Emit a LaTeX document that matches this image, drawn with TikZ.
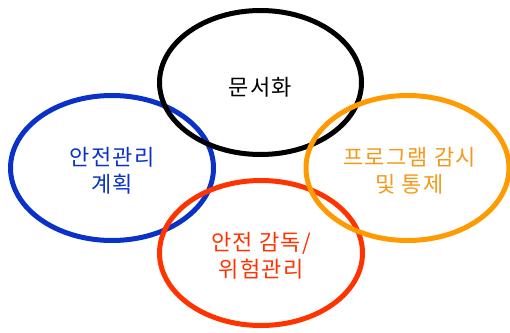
\documentclass[tikz,border=0pt]{standalone}
\usepackage{fontspec}
\setmainfont{Noto Sans CJK KR}[LetterSpace=6]
\usetikzlibrary{shapes.geometric}
\definecolor{cblue}{HTML}{0A32C8}
\definecolor{corange}{HTML}{FF9A00}
\definecolor{cred}{HTML}{FF3300}
\definecolor{torange}{HTML}{F39A1E}
\tikzset{
  ring/.style={ellipse, draw, line width=5pt, inner sep=0pt},
  lbl/.style={inner sep=0pt, align=center, font=\fontsize{22}{27}\selectfont},
}
\begin{document}
\begin{tikzpicture}[x=1pt,y=-1pt]
\useasboundingbox (0,0) rectangle (510,332);
\node[ring, draw=cblue, minimum width=203pt, minimum height=145pt] (plan) at (112,168) {};
\node[ring, draw=black, minimum width=202pt, minimum height=144pt] (doc) at (260.5,82.5) {};
\node[ring, draw=cred, minimum width=203pt, minimum height=145pt] (sup) at (261,253) {};
\node[ring, draw=corange, minimum width=203pt, minimum height=145pt] (prog) at (407.5,168) {};
\node[lbl, text=cblue] (plant) at ([yshift=-3pt]plan.center) {안전관리\\계획};
\node[lbl, text=black] (doct) at ([yshift=-5pt]doc.center) {문서화};
\node[lbl, text=cred] (supt) at ([yshift=-3pt]sup.center) {안전 감독/\\위험관리};
\node[lbl, text=torange] (progt) at ([xshift=2pt,yshift=-3pt]prog.center) {프로그램 감시\\및 통제};
\end{tikzpicture}
\end{document}
